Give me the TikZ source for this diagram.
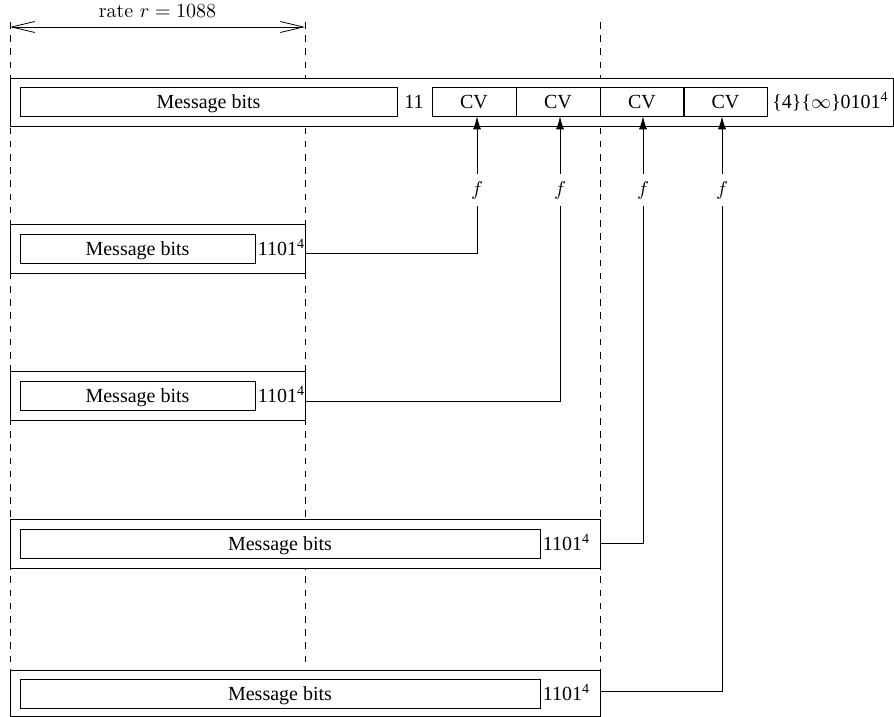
\documentclass[tikz,border=0pt]{standalone}
\usepackage{fontspec}
\newfontfamily\tms{Liberation Serif}
\usetikzlibrary{arrows.meta}

\begin{document}
\begin{tikzpicture}[x=0.5pt,y=-0.5pt,
    frame/.style={draw,fill=white},
    bitbox/.style={draw,minimum height=14.5pt,inner sep=0pt,text height=7pt,text depth=0pt,font=\tms},
    cvbox/.style={bitbox,minimum width=42pt},
    tag/.style={font=\tms,inner sep=1pt,text height=7pt,text depth=0pt},
    guide/.style={dash pattern=on 3.3pt off 3.3pt},
    span/.style={{Straight Barb[length=11.5pt,width=5.5pt]}-{Straight Barb[length=11.5pt,width=5.5pt]}},
    feed/.style={-{Latex[length=6.5pt,width=4pt]}}]
	\useasboundingbox (0,0) rectangle (894,717);

	\draw[guide] (10,22) -- (10,670);
	\draw[guide] (305,22) -- (305,668);
	\draw[guide] (600,22) -- (600,670);

	\coordinate (rateL) at (10,27);
	\coordinate (rateR) at (305,27);
	\draw[span] (rateL) -- node[above=1pt] (rate) {rate $r=1088$} (rateR);

	\draw[frame] (10,78) rectangle (893,126);
	\node[bitbox,minimum width=188.5pt] (msgA) at (208.5,101.5) {Message bits};
	\node[tag] (padA) at (414,101.5) {11};
	\node[cvbox] (cvA) at (474,101.5) {CV};
	\node[cvbox] (cvB) at (558,101.5) {CV};
	\node[cvbox] (cvC) at (642,101.5) {CV};
	\node[cvbox] (cvD) at (725.5,101.5) {CV};
	\node[tag,anchor=west,inner sep=2pt] (padEnd) at (cvD.east) {\{4\}\{$\infty$\}0101\textsuperscript{4}};

	\node (fA) at (477,190) {$f$};
	\node (fB) at (560,190) {$f$};
	\node (fC) at (643,190) {$f$};
	\node (fD) at (722,190) {$f$};
	\draw[feed] (fA) -- (fA |- cvA.south);
	\draw[feed] (fB) -- (fB |- cvB.south);
	\draw[feed] (fC) -- (fC |- cvC.south);
	\draw[feed] (fD) -- (fD |- cvD.south);

	\draw[frame] (10,224) rectangle (305,273);
	\node[bitbox,minimum width=117.5pt] (msgB) at (137.5,248.5) {Message bits};
	\node[tag,anchor=west] (tagB) at (msgB.east) {1101\textsuperscript{4}};
	\coordinate (outB) at (305,253);
	\draw (outB) -| (fA);

	\draw[frame] (10,371) rectangle (305,420);
	\node[bitbox,minimum width=117.5pt] (msgC) at (137.5,395.5) {Message bits};
	\node[tag,anchor=west] (tagC) at (msgC.east) {1101\textsuperscript{4}};
	\coordinate (outC) at (305,401);
	\draw (outC) -| (fB);

	\draw[frame] (10,519) rectangle (600,568);
	\node[bitbox,minimum width=260pt] (msgD) at (280,543.5) {Message bits};
	\node[tag,anchor=west] (tagD) at (msgD.east) {1101\textsuperscript{4}};
	\coordinate (outD) at (600,543);
	\draw (outD) -| (fC);

	\draw[frame] (10,670) rectangle (600,716);
	\node[bitbox,minimum width=260pt] (msgE) at (280,693.5) {Message bits};
	\node[tag,anchor=west] (tagE) at (msgE.east) {1101\textsuperscript{4}};
	\coordinate (outE) at (600,691);
	\draw (outE) -| (fD);
\end{tikzpicture}
\end{document}
